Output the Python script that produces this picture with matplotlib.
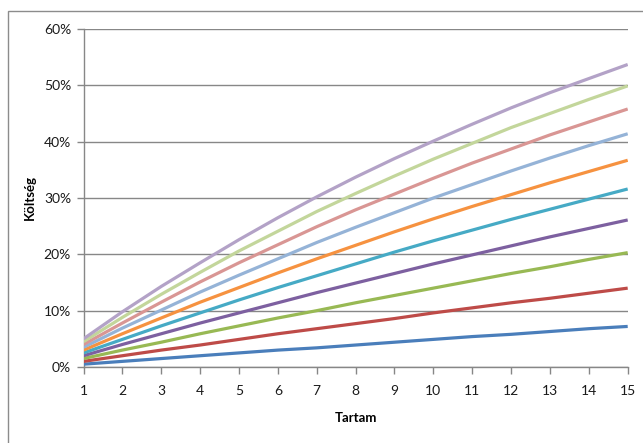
import matplotlib
matplotlib.use("Agg")
import matplotlib.pyplot as plt
from matplotlib.patches import Rectangle
from matplotlib.ticker import FuncFormatter

# Cumulative cost (%) by term (years), one series per annual rate
tartam = list(range(1, 16))

s_05 = [0.5, 1.0, 1.5, 2.0, 2.5, 3.0, 3.4, 3.9, 4.4, 4.9, 5.4, 5.8, 6.3, 6.8, 7.2]
s_10 = [1.0, 2.0, 3.0, 3.9, 4.9, 5.9, 6.8, 7.7, 8.6, 9.6, 10.5, 11.4, 12.2, 13.1, 14.0]
s_15 = [1.5, 3.0, 4.4, 5.9, 7.3, 8.7, 10.0, 11.4, 12.7, 14.0, 15.3, 16.6, 17.8, 19.1, 20.3]
s_20 = [2.0, 4.0, 5.9, 7.8, 9.6, 11.4, 13.2, 14.9, 16.6, 18.3, 19.9, 21.5, 23.1, 24.6, 26.1]
s_25 = [2.5, 4.9, 7.3, 9.6, 11.9, 14.1, 16.2, 18.3, 20.4, 22.4, 24.3, 26.2, 28.0, 29.8, 31.6]
s_30 = [3.0, 5.9, 8.7, 11.5, 14.1, 16.7, 19.2, 21.6, 24.0, 26.3, 28.5, 30.6, 32.7, 34.7, 36.7]
s_35 = [3.5, 6.9, 10.1, 13.3, 16.3, 19.2, 22.1, 24.8, 27.4, 30.0, 32.4, 34.8, 37.1, 39.3, 41.4]
s_40 = [4.0, 7.8, 11.5, 15.1, 18.5, 21.7, 24.9, 27.9, 30.7, 33.5, 36.2, 38.7, 41.2, 43.5, 45.8]
s_45 = [4.5, 8.8, 12.9, 16.8, 20.6, 24.1, 27.6, 30.8, 33.9, 36.9, 39.7, 42.5, 45.0, 47.5, 49.9]
s_50 = [5.0, 9.8, 14.3, 18.5, 22.6, 26.5, 30.2, 33.7, 37.0, 40.1, 43.1, 46.0, 48.7, 51.2, 53.7]

series = [s_05, s_10, s_15, s_20, s_25, s_30, s_35, s_40, s_45, s_50]
colors = ["#4A7EBB", "#BE4B48", "#98B954", "#7D60A0", "#46AAC5",
          "#F69240", "#95B3D7", "#D99694", "#C3D69B", "#B3A2C7"]

plt.rcParams["font.family"] = ["Lato", "DejaVu Sans"]

fig = plt.figure(figsize=(6.43, 4.43), dpi=100)
fig.patch.set_facecolor("white")

# chart frame
fig.patches.append(Rectangle((8 / 643, -0.05), 1.0, 1 - 11 / 443 + 0.05,
                             transform=fig.transFigure, fill=False,
                             edgecolor="#8C8C8C", linewidth=1.0))

ax = fig.add_axes([83.5 / 643, 1 - 367 / 443, (627.7 - 83.5) / 643, (367 - 29) / 443])

for vals, c in zip(series, colors):
    ax.plot(tartam, [v / 100 for v in vals], color=c, linewidth=2.3,
            solid_capstyle="butt", zorder=3)

ax.set_xlim(1, 15)
ax.set_ylim(0, 0.6)
ax.set_xticks(tartam)
ax.set_yticks([i / 10 for i in range(7)])
ax.yaxis.set_major_formatter(FuncFormatter(lambda v, p: f"{v * 100:.0f}%"))

ax.grid(axis="y", color="#878787", linewidth=1.0, zorder=1)
ax.set_axisbelow(True)
for side in ("top", "right"):
    ax.spines[side].set_visible(False)
for side in ("left", "bottom"):
    ax.spines[side].set_color("#878787")
    ax.spines[side].set_linewidth(1.0)

ax.tick_params(axis="both", colors="#878787", length=5, width=1.0,
               labelcolor="#1a1a1a", labelsize=10)
ax.tick_params(axis="y", pad=4)
ax.tick_params(axis="x", pad=8)

ax.set_xlabel("Tartam", fontsize=9.5, fontweight="bold", labelpad=11)
ax.set_ylabel("Költség", fontsize=9.5, fontweight="bold", labelpad=6)

fig.savefig("out.png", dpi=100)
